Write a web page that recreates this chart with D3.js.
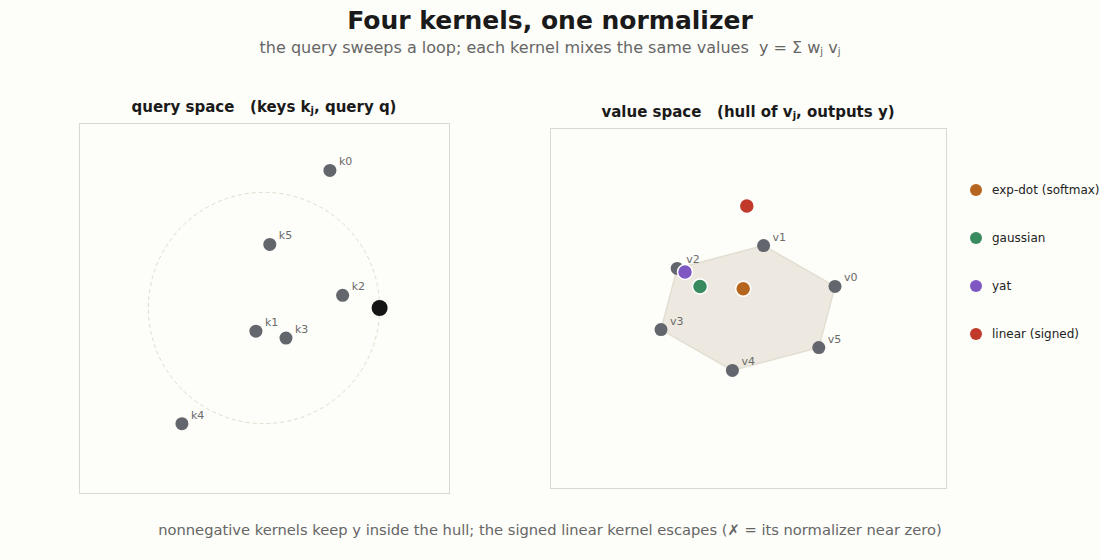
<!DOCTYPE html>
<html><head><meta charset="utf-8">
<script src="https://cdn.jsdelivr.net/npm/d3@7"></script>
<style>body{margin:0;background:#fdfdf9;}svg{display:block;font-family:"DejaVu Sans",sans-serif;}text{white-space:pre;}</style>
</head><body>
<script>
// ---- data ----
const keyNames = ["k0","k1","k2","k3","k4","k5"];
const keyX = [0.57,-0.07,0.68,0.19,-0.71,0.05];
const keyY = [1.19,-0.20,0.11,-0.26,-1.00,0.55];
const query = [1.0, 0.0];
const loopRadius = 1.0;
const valueNames = ["v0","v1","v2","v3","v4","v5"];
const valueX = [0.725,0.13,-0.59,-0.725,-0.13,0.59];
const valueY = [0.18,0.52,0.33,-0.18,-0.52,-0.33];
const kernels = ["exp-dot (softmax)","gaussian","yat","linear (signed)"];
const kernelColors = ["#b5651d","#3a8a5f","#7e57c2","#c0392b"];
const outX = [-0.04,-0.40,-0.525,-0.01];
const outY = [0.16,0.18,0.30,0.85];

const W=1100,H=560;
const svg=d3.select("body").append("svg").attr("width",W).attr("height",H);
svg.append("rect").attr("width",W).attr("height",H).attr("fill","#fdfdf9");

// titles
svg.append("text").attr("x",550).attr("y",29).attr("text-anchor","middle")
  .attr("font-size",25).attr("font-weight","bold").attr("fill","#1a1a1a").text("Four kernels, one normalizer");
const st=svg.append("text").attr("x",550).attr("y",53).attr("text-anchor","middle")
  .attr("font-size",16).attr("fill","#666");
st.append("tspan").text("the query sweeps a loop; each kernel mixes the same values  y = Σ w");
st.append("tspan").attr("font-size",10).attr("dy",2).text("j");
st.append("tspan").attr("dy",-2).text(" v");
st.append("tspan").attr("font-size",10).attr("dy",2).text("j");

function panelTitle(x,y,a,b){
  const t=svg.append("text").attr("x",x).attr("y",y).attr("text-anchor","middle")
    .attr("font-size",15).attr("font-weight","bold").attr("fill","#1a1a1a");
  t.append("tspan").text(a);
  t.append("tspan").attr("font-size",10).attr("dy",2).text("j");
  t.append("tspan").attr("dy",-2).text(b);
}
panelTitle(264,112,"query space   (keys k",", query q)");
panelTitle(748,117,"value space   (hull of v",", outputs y)");

// ---- left panel ----
const L={x:79,y:123,w:370,h:370};
const lx=d3.scaleLinear().domain([-1.6,1.6]).range([L.x,L.x+L.w]);
const ly=d3.scaleLinear().domain([-1.6,1.6]).range([L.y+L.h,L.y]);
svg.append("rect").attr("x",L.x+0.5).attr("y",L.y+0.5).attr("width",L.w).attr("height",L.h)
  .attr("fill","#fdfdf9").attr("stroke","#d9d9d2");
svg.append("circle").attr("cx",lx(0)).attr("cy",ly(0)).attr("r",lx(loopRadius)-lx(0))
  .attr("fill","none").attr("stroke","#e2dccd").attr("stroke-dasharray","4,3");
const keys=keyNames.map((n,i)=>({n,x:keyX[i],y:keyY[i]}));
svg.selectAll(".key").data(keys).join("circle").attr("cx",d=>lx(d.x)).attr("cy",d=>ly(d.y))
  .attr("r",6.5).attr("fill","#63666c");
svg.selectAll(".klab").data(keys).join("text").attr("x",d=>lx(d.x)+9).attr("y",d=>ly(d.y)-5)
  .attr("font-size",11).attr("fill","#6b6b6b").text(d=>d.n);
svg.append("circle").attr("cx",lx(query[0])).attr("cy",ly(query[1])).attr("r",8).attr("fill","#151515");

// ---- right panel ----
const R={x:550,y:128,w:396,h:360};
const rx=d3.scaleLinear().domain([-1.65,1.65]).range([R.x,R.x+R.w]);
const ry=d3.scaleLinear().domain([-1.5,1.5]).range([R.y+R.h,R.y]);
svg.append("rect").attr("x",R.x+0.5).attr("y",R.y+0.5).attr("width",R.w).attr("height",R.h)
  .attr("fill","#fdfdf9").attr("stroke","#d9d9d2");
const vals=valueNames.map((n,i)=>({n,x:valueX[i],y:valueY[i]}));
const hull=d3.polygonHull(vals.map(d=>[rx(d.x),ry(d.y)]));
svg.append("path").attr("d","M"+hull.join("L")+"Z").attr("fill","#ede9e0").attr("stroke","#e3ded2").attr("stroke-width",1.5);
svg.selectAll(".val").data(vals).join("circle").attr("cx",d=>rx(d.x)).attr("cy",d=>ry(d.y))
  .attr("r",6.5).attr("fill","#63666c");
svg.selectAll(".vlab").data(vals).join("text").attr("x",d=>rx(d.x)+9).attr("y",d=>ry(d.y)-5)
  .attr("font-size",11).attr("fill","#6b6b6b").text(d=>d.n);
const outs=kernels.map((k,i)=>({k,c:kernelColors[i],x:outX[i],y:outY[i]}));
svg.selectAll(".out").data(outs).join("circle").attr("cx",d=>rx(d.x)).attr("cy",d=>ry(d.y))
  .attr("r",7.5).attr("fill",d=>d.c).attr("stroke","#fff").attr("stroke-width",1.5);

// legend
const lg=svg.selectAll(".lg").data(outs).join("g").attr("transform",(d,i)=>`translate(976,${190+i*48})`);
lg.append("circle").attr("r",6).attr("fill",d=>d.c);
lg.append("text").attr("x",16).attr("y",4).attr("font-size",12).attr("fill","#222").text(d=>d.k);

// footer
svg.append("text").attr("x",550).attr("y",535).attr("text-anchor","middle").attr("font-size",14.7)
  .attr("fill","#666").text("nonnegative kernels keep y inside the hull; the signed linear kernel escapes (✗ = its normalizer near zero)");
</script>
</body></html>
